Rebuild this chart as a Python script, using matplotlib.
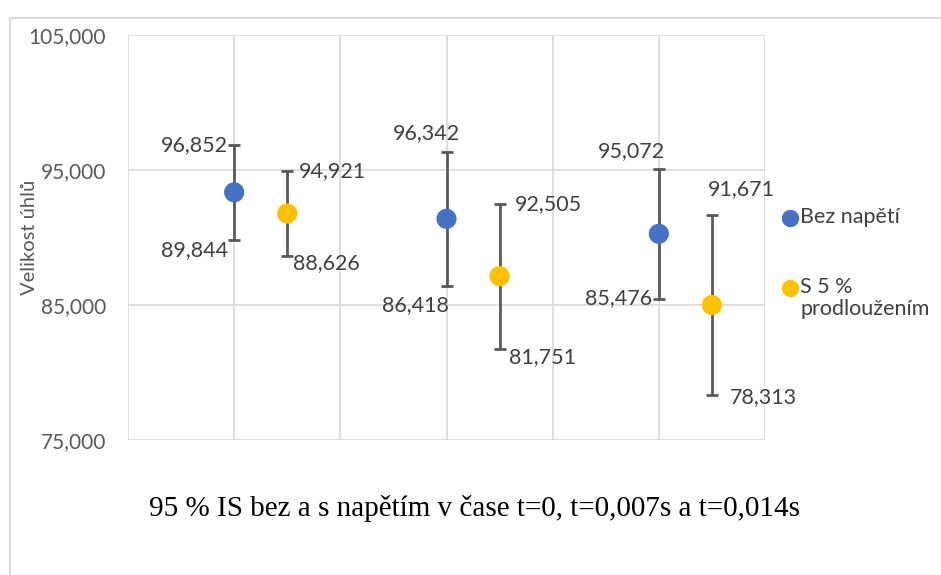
import matplotlib
matplotlib.use("Agg")
import matplotlib.pyplot as plt
from matplotlib.lines import Line2D
import matplotlib.patheffects as pe

# ---- data ----
series_names = ["Bez napětí", "S 5 %\nprodloužením"]
x_blue = [1, 3, 5]
x_yellow = [1.5, 3.5, 5.5]
upper_blue = [96.852, 96.342, 95.072]
lower_blue = [89.844, 86.418, 85.476]
upper_yellow = [94.921, 92.505, 91.671]
lower_yellow = [88.626, 81.751, 78.313]
yticks = [75, 85, 95, 105]
ylabel = "Velikost úhlů"
caption = "95 % IS bez a s napětím v čase t=0, t=0,007s a t=0,014s"

# ---- style ----
BLUE = "#4472C4"
YELLOW = "#FFC000"
ERR = "#595959"
GRID = "#D9D9D9"
TXT = "#404040"
FONT = "Lato"
FS = 15.5

def fmt(v):
    return f"{v:,.3f}".replace(".", ",")

fig = plt.figure(figsize=(9.41, 5.75), dpi=100)
ax = fig.add_axes([128/941, 1-440/575, (765-128)/941, (440-35)/575])

ax.set_xlim(0, 6)
ax.set_ylim(75, 105)
ax.set_xticks(range(0, 7))
ax.set_yticks(yticks)
ax.set_xticklabels([])
ax.set_yticklabels([fmt(v) for v in yticks], fontfamily=FONT, fontsize=15, color="#595959")
ax.tick_params(axis="both", length=0)
ax.tick_params(axis="y", pad=16)
ax.grid(True, color=GRID, linewidth=1.2)
ax.set_axisbelow(True)
for s in ax.spines.values():
    s.set_visible(False)

ax.set_ylabel(ylabel, fontfamily=FONT, fontsize=14.5, color="#595959")
ax.yaxis.set_label_coords(-0.142, 0.5)

def draw_series(xs, ups, lows, color):
    mids = [(u + l) / 2 for u, l in zip(ups, lows)]
    err = [[m - l for m, l in zip(mids, lows)], [u - m for u, m in zip(ups, mids)]]
    ax.errorbar(xs, mids, yerr=err, fmt="none", ecolor=ERR, elinewidth=2,
                capsize=4, capthick=2, zorder=3)
    ax.plot(xs, mids, "o", color=color, markersize=14.5, markeredgewidth=0, zorder=4,
            path_effects=[pe.SimpleLineShadow(offset=(0, -1.5), shadow_color="black", alpha=0.35),
                          pe.Normal()])
    return mids

draw_series(x_blue, upper_blue, lower_blue, BLUE)
draw_series(x_yellow, upper_yellow, lower_yellow, YELLOW)

# label placement (pixel offsets, alignment) – style only
blue_up_pos = [(-6, 0, "right"), (14, 19, "right"), (6, 18, "right")]
blue_lo_pos = [(-6, -10, "right"), (2, -19, "right"), (-7, 0, "right")]
yel_up_pos = [(12, 0, "left"), (15, 0, "left"), (-4, 26, "left")]
yel_lo_pos = [(6, -7, "left"), (9, -8, "left"), (18, -2, "left")]

def labels(xs, vals, poss):
    for x, v, (dx, dy, ha) in zip(xs, vals, poss):
        ax.annotate(fmt(v), (x, v), xytext=(dx, dy), textcoords="offset pixels",
                    ha=ha, va="center", fontfamily=FONT, fontsize=FS, color=TXT, zorder=5)

labels(x_blue, upper_blue, blue_up_pos)
labels(x_blue, lower_blue, blue_lo_pos)
labels(x_yellow, upper_yellow, yel_up_pos)
labels(x_yellow, lower_yellow, yel_lo_pos)

# legend (drawn manually so the marker aligns with the first text line)
leg_colors = [BLUE, YELLOW]
leg_y = [218, 288]
for name, col, yy in zip(series_names, leg_colors, leg_y):
    fy = 1 - yy/575
    fig.add_artist(Line2D([790/941], [fy], transform=fig.transFigure, marker="o",
                          linestyle="none", color=col, markersize=11.5))
    fig.text(800/941, fy + 11/575, name, ha="left", va="top", fontfamily=FONT,
             fontsize=FS, color=TXT, linespacing=1.15)

# caption
fig.text(474/941, 1-508/575, caption, ha="center", va="center",
         fontfamily="Liberation Serif", fontsize=21, color="black")

# document frame lines
fig.add_artist(Line2D([10/941, 10/941], [0, 1-18/575], transform=fig.transFigure, color=GRID, lw=1.5))
fig.add_artist(Line2D([10/941, 1], [1-18/575, 1-18/575], transform=fig.transFigure, color=GRID, lw=1.5))

fig.savefig("out.png", dpi=100)
